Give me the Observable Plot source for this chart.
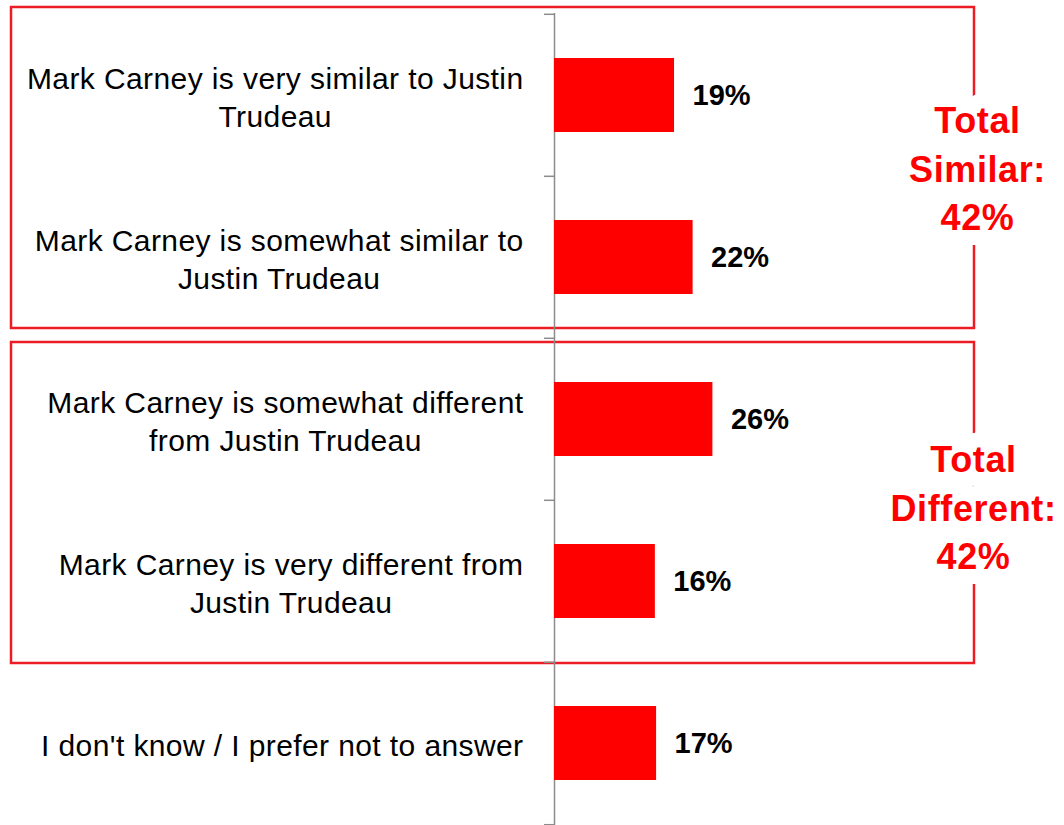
<!DOCTYPE html>
<html>
<head>
<meta charset="utf-8">
<script src="https://cdn.jsdelivr.net/npm/d3@7"></script>
<script src="https://cdn.jsdelivr.net/npm/@observablehq/plot@0.6"></script>
<style>
  html, body { margin: 0; padding: 0; background: #fff; }
  #chart svg { display: block; }
  #chart g[font-size="30"] { letter-spacing: 0.4px; }
  #chart g[font-size="36"] { letter-spacing: 0.6px; }
</style>
</head>
<body>
<div id="chart"></div>
<script>
// ---- Data ----
const categories = [
  "Mark Carney is very similar to Justin\nTrudeau",
  "Mark Carney is somewhat similar to\nJustin Trudeau",
  "Mark Carney is somewhat different\nfrom Justin Trudeau",
  "Mark Carney is very different from\nJustin Trudeau",
  "I don't know / I prefer not to answer"
];
const values = [19.4, 22.4, 25.6, 16.3, 16.5];          // bar lengths (%)
const valueLabels = ["19%", "22%", "26%", "16%", "17%"]; // printed labels
const groupNames = ["Similar", "Different"];
const groupTotals = ["42%", "42%"];
const groupFirst = [0, 2];
const groupLast = [1, 3];

// ---- Layout / style ----
const W = 1064, H = 825, mT = 13, mB = 0, mL = 554, mR = 15;
const bw = (H - mT - mB) / categories.length;
const RED = "#ff0000", BOX = "#ec1c24", GRAY = "#8c8c8c";
const FONT = "'Liberation Sans', Arial, sans-serif";

const data = categories.map((c, i) => ({category: c, value: values[i], label: valueLabels[i]}));
const groups = groupNames.map((g, i) => ({
  from: categories[groupFirst[i]],
  to: categories[groupLast[i]],
  text: `Total\n${g}:\n${groupTotals[i]}`
}));

// measure label widths so each multi-line label block is right-aligned to the axis with centred lines
const ctx = document.createElement("canvas").getContext("2d");
ctx.font = "30px 'Liberation Sans'";
const blockWidth = c => Math.max(...c.split("\n").map(s => ctx.measureText(s).width + 0.4 * s.length));

const boundaries = categories.map(c => ({c, off: -bw / 2})).concat([{c: categories[categories.length - 1], off: bw / 2}]);

const chart = Plot.plot({
  width: W,
  height: H,
  marginTop: mT,
  marginBottom: mB,
  marginLeft: mL,
  marginRight: mR,
  style: {fontFamily: FONT, background: "#fff", overflow: "visible"},
  x: {domain: [0, 80], axis: null},
  y: {type: "band", domain: categories, padding: 0, axis: null},
  marks: [
    // group boxes
    Plot.rect([groups[0]], {y1: "from", y2: "to", fill: "none", stroke: BOX, strokeWidth: 2.5,
      insetLeft: -543, insetRight: 75, insetTop: -7, insetBottom: 10}),
    Plot.rect([groups[1]], {y1: "from", y2: "to", fill: "none", stroke: BOX, strokeWidth: 2.5,
      insetLeft: -543, insetRight: 75, insetTop: 4, insetBottom: -1}),
    // axis line and boundary ticks
    Plot.ruleX([0], {stroke: GRAY, strokeWidth: 1.5}),
    ...boundaries.map(b => Plot.ruleY([b.c], {y: d => d, x1: 0, x2: 0, insetLeft: -10, dy: b.off, stroke: GRAY, strokeWidth: 1.5})),
    // bars
    Plot.barX(data, {x: "value", y: "category", fill: RED, insetTop: 44, insetBottom: 44}),
    // value labels
    Plot.text(data, {x: "value", y: "category", text: "label", dx: 18, textAnchor: "start",
      fontWeight: "bold", fontSize: 29, fill: "#000"}),
    // category labels
    ...categories.map(c => Plot.text([c], {x: 0, y: d => d, text: d => d, textAnchor: "middle",
      dx: -(31 + blockWidth(c) / 2), fontSize: 30, lineHeight: 1.277, fill: "#000"})),
    // group totals
    Plot.text([groups[0]], {y: "from", frameAnchor: "right", textAnchor: "middle", text: "text",
      dx: -72, dy: 70.6, fontSize: 36, fontWeight: "bold", lineHeight: 1.35, fill: RED,
      stroke: "#fff", strokeWidth: 30, strokeLinejoin: "round", paintOrder: "stroke"}),
    Plot.text([groups[1]], {y: "from", frameAnchor: "right", textAnchor: "middle", text: "text",
      dx: -76, dy: 85.8, fontSize: 36, fontWeight: "bold", lineHeight: 1.35, fill: RED,
      stroke: "#fff", strokeWidth: 30, strokeLinejoin: "round", paintOrder: "stroke"})
  ]
});
document.getElementById("chart").appendChild(chart);
</script>
</body>
</html>
